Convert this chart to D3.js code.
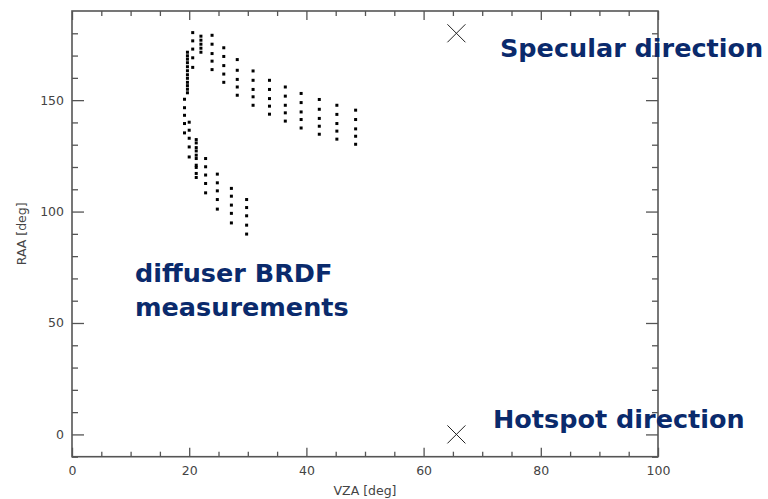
<!DOCTYPE html>
<html>
<head>
<meta charset="utf-8">
<script src="https://cdn.jsdelivr.net/npm/d3@7"></script>
<style>
  html, body { margin: 0; padding: 0; background: #ffffff; }
  svg { display: block; }
</style>
</head>
<body>
<svg id="chart" width="768" height="499"></svg>
<script>
// Viewing zenith angle of each measurement scan (deg)
const scanVZA = [19.2, 19.7, 20.0, 20.6, 21.2, 22.0, 22.8, 23.9, 24.8, 25.9,
                 27.2, 28.2, 29.8, 30.9, 33.7, 36.4, 39.1, 42.2, 45.2, 48.4];
// Relative azimuth angles sampled within each scan (deg)
const scanRAA = [
  [150.4, 146.6, 143.2, 139.5, 135.3],
  [171.5, 169.9, 168.4, 166.8, 165.0, 163.2, 161.4, 159.8, 158.0, 156.5, 154.9, 153.3],
  [140.1, 136.5, 132.9, 129.0, 124.5],
  [180.3, 176.6, 172.9, 169.0, 164.7],
  [132.3, 130.8, 128.7, 127.2, 125.3, 123.8, 120.8, 119.8, 117.1, 115.3],
  [178.7, 176.9, 175.1, 173.3, 171.5],
  [123.8, 120.1, 116.4, 112.6, 108.4],
  [179.1, 175.1, 170.9, 167.5, 163.7],
  [116.8, 112.9, 109.3, 105.4, 101.1],
  [173.5, 169.6, 165.5, 161.7, 158.0],
  [110.4, 106.9, 102.9, 99.2, 94.9],
  [168.2, 163.4, 159.3, 155.9, 152.2],
  [105.4, 101.8, 98.1, 93.9, 89.9],
  [163.1, 158.9, 154.8, 151.5, 147.7],
  [158.9, 154.8, 150.7, 147.3, 143.7],
  [155.9, 151.8, 147.7, 144.3, 140.6],
  [153.0, 148.9, 144.7, 141.3, 137.5],
  [150.3, 145.9, 141.8, 138.3, 134.7],
  [147.7, 143.6, 139.5, 136.1, 132.5],
  [145.5, 141.3, 137.1, 133.8, 130.2]
];
// Reference directions
const dirNames = ["Specular direction", "Hotspot direction"];
const dirVZA = [65.6, 65.6];
const dirRAA = [180, 0];
// Axis ticks
const xMajorTicks = [0, 20, 40, 60, 80, 100];
const xMinorTicks = [5, 10, 15, 25, 30, 35, 45, 50, 55, 65, 70, 75, 85, 90, 95];
const yMajorTicks = [0, 50, 100, 150];
const yMinorTicks = [-10, 10, 20, 30, 40, 60, 70, 80, 90, 110, 120, 130, 140, 160, 170, 180];

const svg = d3.select("#chart");
const plotL = 72, plotR = 658, plotT = 11, plotB = 456.7;
const x = d3.scaleLinear().domain([0, 100]).range([plotL, plotR]);
const y = d3.scaleLinear().domain([-10, 190]).range([plotB, plotT]);

const axisColor = "#555555";
const labelColor = "#444444";
const noteColor = "#0a2a6c";

function styleAxis(g) {
  g.select(".domain").remove();
  g.selectAll(".tick line").attr("stroke", axisColor).attr("stroke-width", 1.3);
  g.selectAll(".tick text")
    .attr("fill", labelColor)
    .style("font-family", "DejaVu Sans, sans-serif")
    .style("font-size", "12.5px");
}

// Bottom axis (labelled, ticks pointing inward)
svg.append("g").attr("transform", `translate(0,${plotB})`)
  .call(d3.axisBottom(x).tickValues(xMajorTicks).tickSize(-9).tickPadding(9).tickFormat(d3.format("d")))
  .call(styleAxis);
svg.append("g").attr("transform", `translate(0,${plotB})`)
  .call(d3.axisBottom(x).tickValues(xMinorTicks).tickSize(-5).tickFormat(""))
  .call(styleAxis);
// Top axis (ticks only)
svg.append("g").attr("transform", `translate(0,${plotT})`)
  .call(d3.axisTop(x).tickValues(xMajorTicks).tickSize(-9).tickFormat(""))
  .call(styleAxis);
svg.append("g").attr("transform", `translate(0,${plotT})`)
  .call(d3.axisTop(x).tickValues(xMinorTicks).tickSize(-5).tickFormat(""))
  .call(styleAxis);
// Left axis (labelled)
svg.append("g").attr("transform", `translate(${plotL},0)`)
  .call(d3.axisLeft(y).tickValues(yMajorTicks).tickSize(-12).tickPadding(8).tickFormat(d3.format("d")))
  .call(styleAxis);
svg.append("g").attr("transform", `translate(${plotL},0)`)
  .call(d3.axisLeft(y).tickValues(yMinorTicks).tickSize(-6).tickFormat(""))
  .call(styleAxis);
// Right axis (ticks only)
svg.append("g").attr("transform", `translate(${plotR},0)`)
  .call(d3.axisRight(y).tickValues(yMajorTicks).tickSize(-12).tickFormat(""))
  .call(styleAxis);
svg.append("g").attr("transform", `translate(${plotR},0)`)
  .call(d3.axisRight(y).tickValues(yMinorTicks).tickSize(-6).tickFormat(""))
  .call(styleAxis);

// Plot frame
svg.append("rect")
  .attr("x", plotL).attr("y", plotT)
  .attr("width", plotR - plotL).attr("height", plotB - plotT)
  .attr("fill", "none").attr("stroke", axisColor).attr("stroke-width", 1.6);

// Axis titles
svg.append("text")
  .attr("x", (plotL + plotR) / 2).attr("y", 495)
  .attr("text-anchor", "middle")
  .attr("fill", labelColor)
  .style("font-family", "DejaVu Sans, sans-serif").style("font-size", "12.5px")
  .text("VZA [deg]");
svg.append("text")
  .attr("transform", `translate(26,${(plotT + plotB) / 2}) rotate(-90)`)
  .attr("text-anchor", "middle")
  .attr("fill", labelColor)
  .style("font-family", "DejaVu Sans, sans-serif").style("font-size", "12.5px")
  .text("RAA [deg]");

// Measurement points
const points = [];
scanVZA.forEach((v, i) => scanRAA[i].forEach(r => points.push({ vza: v, raa: r })));
svg.append("g").selectAll("rect")
  .data(points)
  .join("rect")
  .attr("x", d => x(d.vza) - 1.5)
  .attr("y", d => y(d.raa) - 1.5)
  .attr("width", 3).attr("height", 3)
  .attr("fill", "#000");

// Specular / hotspot direction markers
const half = 9;
const dirs = dirVZA.map((v, i) => ({ vza: v, raa: dirRAA[i], name: dirNames[i] }));
const crosses = svg.append("g").selectAll("g").data(dirs).join("g")
  .attr("transform", d => `translate(${x(d.vza)},${y(d.raa)})`);
crosses.append("line").attr("x1", -half).attr("y1", -half).attr("x2", half).attr("y2", half)
  .attr("stroke", "#222").attr("stroke-width", 1);
crosses.append("line").attr("x1", -half).attr("y1", half).attr("x2", half).attr("y2", -half)
  .attr("stroke", "#222").attr("stroke-width", 1);

// Annotations
const noteFont = "DejaVu Sans, Verdana, sans-serif";
function note(txt, tx, ty) {
  svg.append("text")
    .attr("x", tx).attr("y", ty)
    .attr("fill", noteColor)
    .style("font-family", noteFont).style("font-weight", "bold").style("font-size", "25.5px")
    .text(txt);
}
note(dirNames[0], 500, 57);
note(dirNames[1], 493, 428);
note("diffuser BRDF", 135, 282);
note("measurements", 135, 316);
</script>
</body>
</html>
